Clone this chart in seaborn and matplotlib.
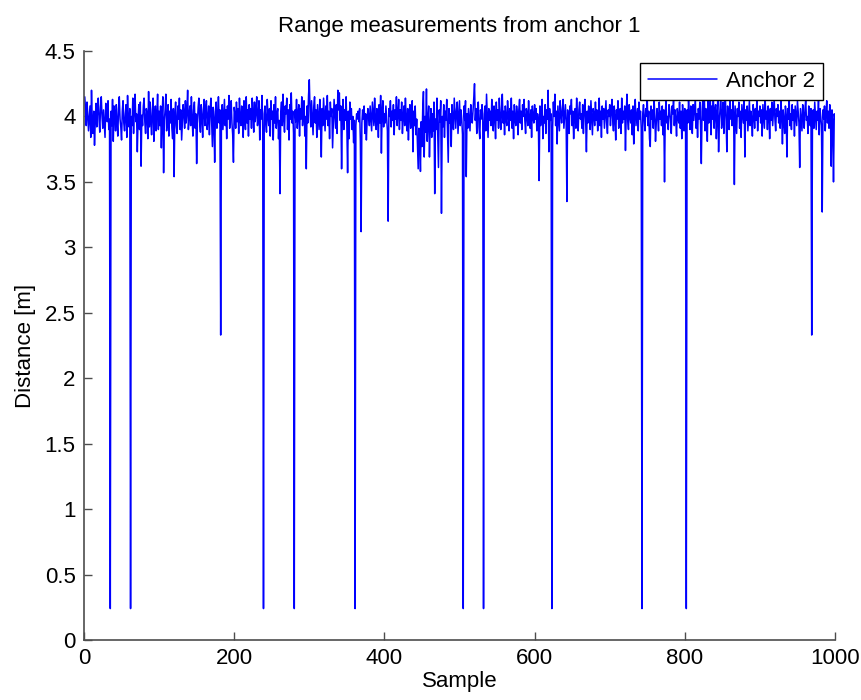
import numpy as np
import pandas as pd
import matplotlib
matplotlib.use("Agg")
import matplotlib.pyplot as plt
import seaborn as sns

# Range readings in centimetres, samples 1..1000
seg0 = [415, 406, 393, 411, 401, 389, 398, 408, 384, 420, 396, 387, 404, 378, 397, 410, 392, 405, 414, 398,
        388, 407, 415, 400, 391, 405, 394, 384, 410, 402, 396, 412, 390, 398, 24, 404, 393, 413, 381, 408,
        401, 389, 409, 396, 385, 406, 415, 398, 392, 382, 404, 412, 395, 389, 402, 409, 384, 416, 397, 392,
        406, 24, 400, 393, 414, 387, 405, 417, 396, 402, 373, 398, 409, 390, 411, 362, 401, 393, 408, 414,
        396, 387, 406, 402, 383, 419, 392, 411, 396, 386, 405, 414, 381, 398, 408, 389, 402, 417, 390, 404]
seg1 = [393, 408, 376, 400, 415, 357, 397, 405, 417, 389, 398, 409, 385, 404, 395, 413, 391, 383, 406, 354,
        402, 411, 393, 387, 408, 398, 414, 390, 405, 382, 396, 409, 402, 391, 412, 395, 404, 420, 390, 400,
        408, 393, 415, 398, 385, 405, 411, 391, 402, 364, 395, 407, 414, 396, 388, 409, 400, 384, 405, 413,
        393, 404, 412, 390, 398, 408, 386, 405, 414, 396, 377, 407, 398, 365, 404, 411, 391, 400, 415, 395,
        405, 233, 398, 409, 390, 402, 413, 393, 405, 383, 408, 398, 416, 391, 404, 412, 395, 386, 365, 407]
seg2 = [402, 391, 411, 396, 406, 387, 414, 398, 393, 408, 404, 384, 412, 400, 390, 415, 395, 405, 385, 409,
        398, 406, 391, 414, 402, 388, 411, 396, 404, 415, 393, 400, 412, 382, 405, 398, 416, 390, 24, 402,
        408, 395, 388, 413, 400, 393, 406, 385, 412, 398, 404, 382, 409, 395, 415, 391, 402, 406, 383, 397,
        341, 404, 411, 393, 417, 398, 388, 408, 402, 414, 390, 405, 382, 409, 398, 418, 395, 404, 387, 24,
        405, 396, 413, 391, 402, 409, 385, 406, 398, 415, 393, 404, 412, 385, 400, 360, 408, 395, 416, 428]
seg3 = [404, 392, 412, 398, 386, 408, 415, 395, 405, 384, 409, 400, 390, 413, 397, 369, 406, 393, 414, 402,
        389, 408, 398, 416, 393, 404, 383, 411, 400, 406, 376, 395, 413, 402, 391, 409, 387, 420, 405, 418,
        397, 408, 360, 402, 413, 390, 405, 397, 415, 393, 357, 404, 383, 411, 398, 406, 390, 400, 380, 397,
        24, 393, 402, 398, 404, 396, 406, 381, 312, 395, 405, 398, 408, 387, 402, 382, 397, 406, 400, 393,
        408, 398, 389, 411, 402, 393, 414, 397, 390, 406, 400, 384, 409, 395, 416, 372, 404, 412, 392, 402]
seg4 = [395, 408, 398, 389, 320, 406, 400, 412, 392, 404, 397, 409, 386, 405, 398, 415, 393, 402, 413, 390,
        405, 397, 411, 387, 400, 408, 393, 414, 398, 389, 406, 382, 402, 409, 391, 397, 412, 373, 404, 393,
        408, 386, 398, 380, 360, 391, 383, 358, 396, 377, 405, 419, 369, 400, 388, 421, 381, 397, 408, 369,
        393, 406, 384, 402, 389, 411, 341, 398, 390, 414, 387, 361, 405, 396, 412, 326, 400, 392, 409, 384,
        404, 397, 413, 389, 365, 406, 395, 402, 377, 409, 398, 390, 414, 402, 391, 405, 411, 387, 400, 412]
seg5 = [393, 405, 398, 386, 24, 408, 397, 412, 354, 402, 391, 406, 398, 389, 409, 400, 395, 404, 414, 425,
        397, 406, 387, 402, 411, 392, 383, 405, 398, 409, 402, 24, 395, 408, 389, 417, 400, 384, 406, 397,
        404, 393, 413, 398, 389, 408, 402, 383, 411, 397, 405, 391, 414, 400, 390, 406, 417, 395, 404, 386,
        408, 398, 393, 412, 402, 389, 406, 397, 414, 391, 404, 383, 409, 398, 393, 408, 402, 386, 405, 413,
        395, 404, 390, 409, 400, 413, 397, 387, 406, 402, 393, 412, 398, 391, 405, 384, 408, 400, 395, 409]
seg6 = [398, 406, 389, 402, 397, 351, 408, 393, 404, 413, 383, 400, 395, 409, 387, 405, 398, 420, 373, 406,
        397, 402, 24, 391, 411, 400, 417, 393, 404, 379, 408, 398, 389, 412, 402, 395, 406, 413, 391, 400,
        409, 397, 335, 405, 398, 387, 408, 402, 413, 393, 404, 383, 400, 406, 391, 414, 397, 389, 405, 411,
        398, 402, 391, 409, 387, 405, 413, 397, 373, 404, 395, 408, 400, 390, 412, 398, 386, 406, 402, 393,
        411, 397, 405, 389, 400, 414, 393, 404, 384, 408, 398, 406, 391, 402, 412, 395, 387, 405, 400, 409]
seg7 = [393, 404, 413, 397, 389, 408, 400, 382, 405, 398, 412, 391, 402, 406, 387, 414, 395, 404, 398, 408,
        374, 402, 417, 397, 390, 409, 400, 395, 405, 386, 408, 379, 404, 413, 393, 400, 406, 389, 411, 398,
        404, 391, 24, 402, 409, 397, 389, 406, 400, 413, 393, 404, 383, 377, 408, 398, 405, 391, 414, 402,
        381, 395, 406, 400, 389, 411, 398, 404, 393, 408, 386, 405, 350, 402, 412, 395, 400, 390, 409, 404,
        397, 387, 408, 402, 413, 393, 405, 398, 385, 406, 400, 395, 411, 391, 404, 383, 409, 400, 389, 406]
seg8 = [398, 24, 405, 395, 412, 402, 390, 408, 400, 387, 409, 397, 405, 414, 391, 402, 384, 406, 398, 411,
        393, 364, 404, 413, 397, 415, 389, 406, 400, 381, 414, 395, 405, 412, 386, 408, 398, 416, 391, 404,
        409, 383, 402, 414, 373, 397, 406, 416, 391, 400, 411, 387, 405, 415, 397, 373, 408, 400, 390, 412,
        398, 405, 393, 413, 402, 348, 408, 397, 387, 406, 400, 411, 391, 404, 384, 409, 402, 395, 414, 369,
        405, 397, 408, 389, 400, 412, 393, 404, 398, 385, 409, 402, 391, 406, 397, 413, 389, 404, 400, 408]
seg9 = [395, 405, 385, 409, 400, 391, 413, 398, 404, 390, 408, 402, 383, 406, 397, 411, 393, 404, 414, 398,
        389, 406, 400, 409, 395, 404, 391, 412, 402, 379, 405, 397, 387, 408, 400, 369, 406, 398, 413, 393,
        402, 390, 409, 397, 405, 385, 408, 400, 393, 412, 404, 395, 361, 406, 398, 389, 409, 402, 391, 405,
        413, 397, 400, 387, 408, 402, 393, 406, 233, 398, 405, 391, 411, 400, 390, 404, 397, 412, 386, 406,
        400, 393, 327, 405, 398, 408, 389, 402, 412, 395, 404, 391, 409, 398, 362, 405, 397, 350, 402, 398]

series_label = "Anchor 2"
title = "Range measurements from anchor 1"
x_label = "Sample"
y_label = "Distance [m]"
x_ticks = [0, 200, 400, 600, 800, 1000]
y_ticks = [0, 0.5, 1, 1.5, 2, 2.5, 3, 3.5, 4, 4.5]

readings_cm = seg0 + seg1 + seg2 + seg3 + seg4 + seg5 + seg6 + seg7 + seg8 + seg9
df = pd.DataFrame({
    "Sample": np.arange(1, len(readings_cm) + 1),
    "Distance": np.array(readings_cm) / 100.0,
})

sns.set_style("white")
plt.rcParams["font.family"] = ["Liberation Sans", "DejaVu Sans"]
plt.rcParams["text.color"] = "black"
plt.rcParams["axes.labelcolor"] = "black"

fig = plt.figure(figsize=(8.61, 7.0), dpi=100)
ax = fig.add_axes([84 / 861, 1 - 640 / 700, (835 - 84) / 861, (640 - 51) / 700])

sns.lineplot(data=df, x="Sample", y="Distance", ax=ax, color="#0000ff",
             linewidth=1.1, label=series_label, estimator=None)

ax.set_xlim(0, 1000)
ax.set_ylim(0, 4.5)
ax.set_xticks(x_ticks)
ax.set_yticks(y_ticks)
ax.set_yticklabels([f"{v:g}" for v in y_ticks])
ax.tick_params(direction="in", length=6, width=1, color="#4d4d4d",
               labelsize=16, labelcolor="black", pad=6,
               bottom=True, left=True, top=False, right=False)
for s in ["top", "right"]:
    ax.spines[s].set_visible(False)
for s in ["left", "bottom"]:
    ax.spines[s].set_color("#4d4d4d")
    ax.spines[s].set_linewidth(1.2)

ax.set_title(title, fontsize=16, pad=14, color="black")
ax.set_xlabel(x_label, fontsize=16, labelpad=1)
ax.set_ylabel(y_label, fontsize=16, labelpad=6)

leg = ax.legend(loc="upper right", fontsize=16, frameon=True, fancybox=False,
                framealpha=1.0, borderaxespad=0.55, handlelength=3.1,
                handletextpad=0.4, borderpad=0.35)
leg.get_frame().set_edgecolor("black")
leg.get_frame().set_linewidth(1.0)

fig.savefig("out.png", dpi=100)
